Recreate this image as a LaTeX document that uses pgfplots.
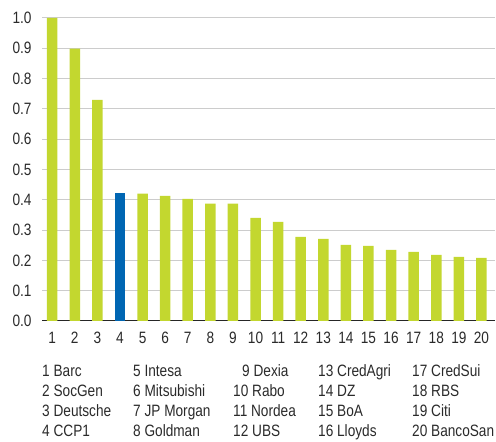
\documentclass[border=0pt]{standalone}
\usepackage{fontspec}
\setmainfont{Liberation Sans}[FakeStretch=0.83]
\usepackage{pgfplots}
\pgfplotsset{compat=1.18}
\definecolor{lime}{HTML}{C3D72F}
\definecolor{cblue}{HTML}{0066B3}
\definecolor{txt}{HTML}{2A2A2A}
\newcommand{\lf}{\fontsize{16.5}{19}\selectfont}
\begin{document}
\begin{tikzpicture}[x=1bp,y=1bp]
\path[use as bounding box] (0,0) rectangle (496,442);
\begin{axis}[
  at={(42bp,121bp)}, anchor=south west,
  scale only axis, width=453bp, height=303bp,
  xmin=0.55, xmax=20.6, ymin=0, ymax=1,
  clip=false,
  ybar, bar width=10.5bp, bar shift=0pt,
  xtick={1,...,20},
  ytick={0,0.1,...,1.0},
  /pgf/number format/assume math mode=true,
  yticklabel style={/pgf/number format/fixed, /pgf/number format/fixed zerofill, /pgf/number format/precision=1, xshift=-7bp},
  xticklabel style={yshift=-8bp},
  tick label style={font=\lf, text=txt},
  major tick length=0pt,
  ymajorgrids, grid style={color=black!20, line width=1pt},
  axis x line*=bottom, axis y line*=left,
  x axis line style={draw=black!85, line width=1pt, -},
  y axis line style={draw=none},
]
\addplot[fill=lime, draw=none] coordinates {
 (1,1.0) (2,0.899) (3,0.73) (5,0.42) (6,0.413) (7,0.403) (8,0.387) (9,0.387)
 (10,0.34) (11,0.327) (12,0.278) (13,0.271) (14,0.251) (15,0.248) (16,0.235)
 (17,0.228) (18,0.218) (19,0.212) (20,0.208)};
\addplot[fill=cblue, draw=none] coordinates {(4,0.423)};
\end{axis}
\begin{scope}[every node/.style={anchor=base west, inner sep=0pt, font=\lf, text=txt}]
\node at (42,65) {1 Barc};
\node at (42,45) {2 SocGen};
\node at (42,25) {3 Deutsche};
\node at (42,5) {4 CCP1};
\node at (133,65) {5 Intesa};
\node at (133,45) {6 Mitsubishi};
\node at (133,25) {7 JP Morgan};
\node at (133,5) {8 Goldman};
\node at (242,65) {9 Dexia};
\node at (233,45) {10 Rabo};
\node at (233,25) {11 Nordea};
\node at (233,5) {12 UBS};
\node at (318,65) {13 CredAgri};
\node at (318,45) {14 DZ};
\node at (318,25) {15 BoA};
\node at (318,5) {16 Lloyds};
\node at (412,65) {17 CredSui};
\node at (412,45) {18 RBS};
\node at (412,25) {19 Citi};
\node at (412,5) {20 BancoSan};
\end{scope}
\end{tikzpicture}
\end{document}
